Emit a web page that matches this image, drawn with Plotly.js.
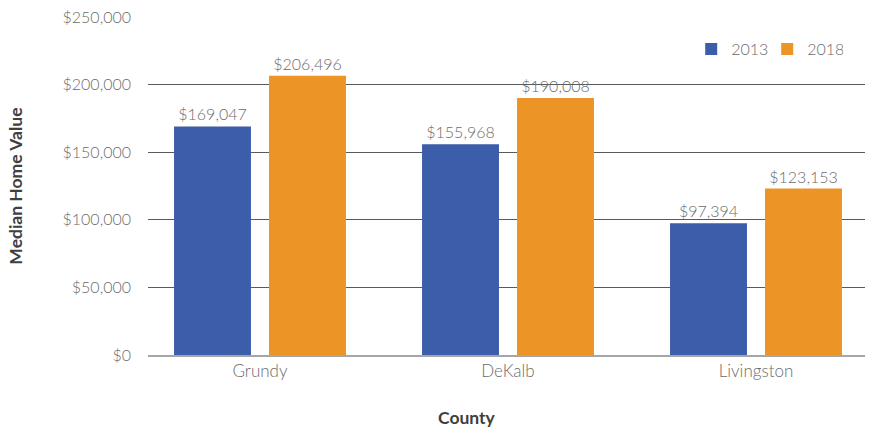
<!DOCTYPE html>
<html>
<head>
<meta charset="utf-8">
<script src="https://cdn.plot.ly/plotly-3.0.1.min.js"></script>
<style>html,body{margin:0;padding:0;background:#fff;}#chart{width:871px;height:427px;}</style>
</head>
<body>
<div id="chart"></div>
<script>
const counties = ["Grundy", "DeKalb", "Livingston"];
const values2013 = [169047, 155968, 97394];
const values2018 = [206496, 190008, 123153];
const seriesNames = ["2013", "2018"];
const tickValues = [0, 50000, 100000, 150000, 200000, 250000];

const FONT = "Lato, 'Source Sans Pro', 'Open Sans', sans-serif";
const fmt = v => "$" + v.toLocaleString("en-US");

const traces = [
  {
    type: "bar", name: seriesNames[0], x: counties, y: values2013,
    marker: {color: "#3C5DAA"},
    text: values2013.map(fmt), textposition: "outside", cliponaxis: false,
    textfont: {family: FONT, size: 16, color: "#6b6b6b", weight: 300},
    hoverinfo: "skip"
  },
  {
    type: "bar", name: seriesNames[1], x: counties, y: values2018,
    marker: {color: "#ED9426"},
    text: values2018.map(fmt), textposition: "outside", cliponaxis: false,
    textfont: {family: FONT, size: 16, color: "#6b6b6b", weight: 300},
    hoverinfo: "skip"
  }
];

const layout = {
  width: 871, height: 427,
  margin: {l: 148, r: 6, t: 17, b: 72},
  paper_bgcolor: "#fff", plot_bgcolor: "#fff",
  font: {family: FONT, size: 16, color: "#6b6b6b", weight: 300},
  barmode: "group", bargap: 0.234, bargroupgap: 0.19,
  showlegend: true,
  legend: {
    orientation: "h", x: 0.9696, xanchor: "right", y: 0.905, yanchor: "middle",
    font: {family: FONT, size: 16, color: "#6b6b6b", weight: 300},
    bgcolor: "rgba(0,0,0,0)", itemwidth: 30, traceorder: "normal",
    entrywidth: 31, entrywidthmode: "pixels"
  },
  xaxis: {
    type: "category", range: [-0.4516, 2.4395],
    showgrid: false, zeroline: false, showline: true, linecolor: "#a6a6a6", linewidth: 2,
    ticks: "", tickfont: {family: FONT, size: 17, color: "#6b6b6b", weight: 300},
    fixedrange: true
  },
  yaxis: {
    range: [0, 250000], tickvals: tickValues, ticktext: tickValues.map(fmt),
    showgrid: true, gridcolor: "#5a5a5a", gridwidth: 1,
    zeroline: false, showline: false, ticks: "",
    ticklabelstandoff: 16,
    tickfont: {family: FONT, size: 16, color: "#6b6b6b", weight: 300},
    fixedrange: true
  },
  annotations: [
    {text: "Median Home Value", xref: "paper", yref: "paper", x: -0.186, y: 0.5,
     xanchor: "center", yanchor: "middle", textangle: -90, showarrow: false,
     font: {family: FONT, size: 17.5, color: "#404040", weight: 700}},
    {text: "County", xref: "paper", yref: "paper", x: 0.445, y: -0.185,
     xanchor: "center", yanchor: "middle", showarrow: false,
     font: {family: FONT, size: 17.5, color: "#404040", weight: 700}}
  ]
};

Plotly.newPlot("chart", traces, layout, {staticPlot: true, displayModeBar: false});
</script>
</body>
</html>
